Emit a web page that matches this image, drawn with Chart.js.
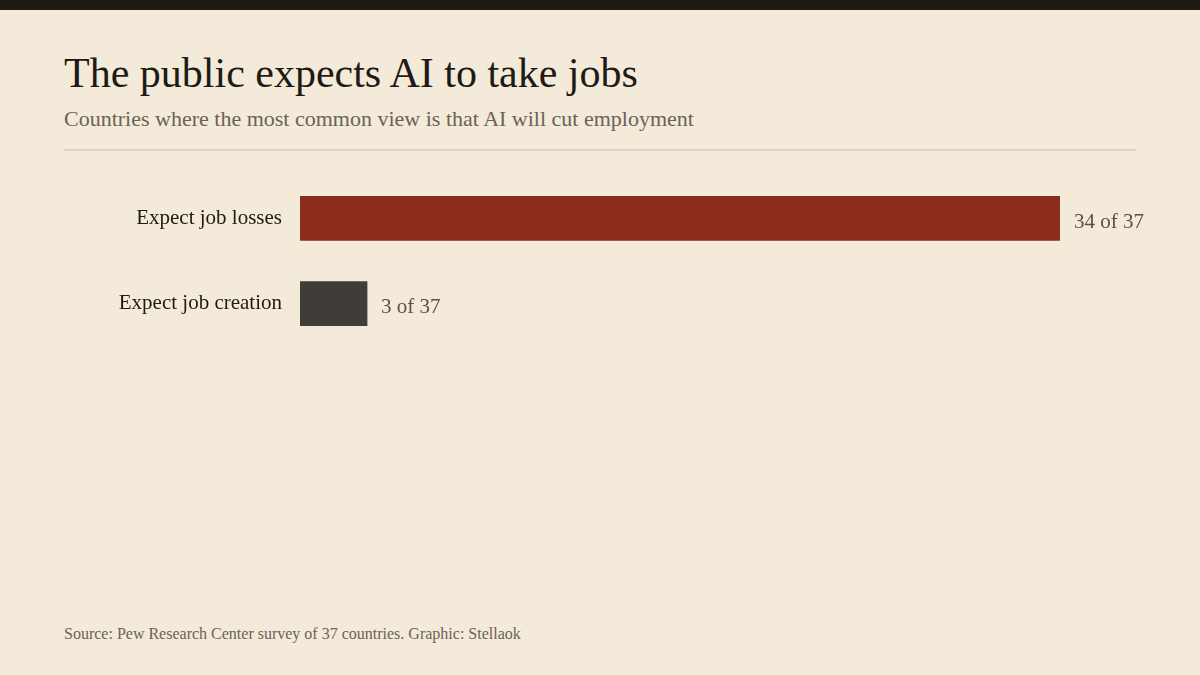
<!DOCTYPE html>
<html><head><meta charset="utf-8">
<script src="https://cdn.jsdelivr.net/npm/chart.js@4"></script>
<style>
html,body{margin:0;padding:0;}
body{width:1200px;height:675px;background:#f3eada;position:relative;overflow:hidden;font-family:"Liberation Serif",serif;}
#topbar{position:absolute;left:0;top:0;width:1200px;height:10px;background:#1f1a14;}
#title{position:absolute;left:64px;top:49px;font-size:42px;color:#1f1a14;white-space:nowrap;}
#sub{position:absolute;left:64px;top:106px;font-size:22px;color:#6b6257;white-space:nowrap;}
#rule{position:absolute;left:64px;top:149px;width:1072px;height:2px;background:#ddd3c2;}
#src{position:absolute;left:64px;top:625px;font-size:16px;color:#6b6257;white-space:nowrap;}
#wrap{position:absolute;left:0;top:153px;width:1200px;height:216px;}
</style></head><body>
<div id="topbar"></div>
<div id="title">The public expects AI to take jobs</div>
<div id="sub">Countries where the most common view is that AI will cut employment</div>
<div id="rule"></div>
<div id="wrap"><canvas id="c"></canvas></div>
<div id="src">Source: Pew Research Center survey of 37 countries. Graphic: Stellaok</div>
<script>
const categories = ["Expect job losses", "Expect job creation"];
const values = [34, 3];
const total = 37;
const colors = ["#8b2b1c", "#403c37"];
const FONT = '"Liberation Serif",serif';
const labelPlugin = {
  id:'vlabels',
  afterDatasetsDraw(chart){
    const ctx = chart.ctx;
    const meta = chart.getDatasetMeta(0);
    ctx.save();
    ctx.font = '21px ' + FONT;
    ctx.fillStyle = '#5a5248';
    ctx.textBaseline = 'middle';
    meta.data.forEach((bar,i)=>{
      ctx.fillText(values[i] + ' of ' + total, bar.x + 14, bar.y + 4);
    });
    ctx.restore();
  }
};
new Chart(document.getElementById('c'), {
  type:'bar',
  data:{labels:categories, datasets:[{data:values, backgroundColor:colors, barThickness:44, borderWidth:0}]},
  options:{
    indexAxis:'y', responsive:true, maintainAspectRatio:false, animation:false,
    layout:{padding:{top:22,bottom:22,right:140,left:0}},
    plugins:{legend:{display:false}, tooltip:{enabled:false}},
    scales:{
      x:{min:0,max:34,display:false},
      y:{grid:{display:false}, border:{display:false},
         ticks:{color:'#1f1a14', font:{family:FONT,size:21}, padding:10},
         afterFit(a){a.width=300;}}
    }
  },
  plugins:[labelPlugin]
});
</script>
</body></html>
